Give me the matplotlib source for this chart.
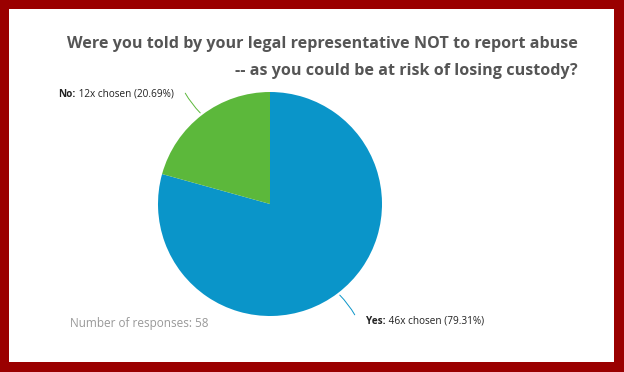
import numpy as np
import matplotlib
matplotlib.use("Agg")
import matplotlib.pyplot as plt
from matplotlib.patches import Rectangle

# data
answers = ["Yes", "No"]
counts = [46, 12]
colors = ["#0a95c9", "#5cb83b"]
title_lines = ["Were you told by your legal representative NOT to report abuse",
               "-- as you could be at risk of losing custody?"]

total = sum(counts)
shares = [c / total * 100 for c in counts]

plt.rcParams['font.family'] = ['Open Sans', 'DejaVu Sans']

W, H = 624, 372
fig = plt.figure(figsize=(W / 100, H / 100), dpi=100)
fig.patch.set_facecolor("#9a0000")
fig.patches.append(Rectangle((9 / W, 10 / H), 605 / W, 353 / H,
                             transform=fig.transFigure, facecolor="white",
                             edgecolor="none", zorder=-1))

# title, right aligned
fig.text(578 / W, 1 - 44 / H, title_lines[0], ha="right", va="center",
         fontsize=11.65, fontweight="bold", color="#555555")
fig.text(578 / W, 1 - 71 / H, title_lines[1], ha="right", va="center",
         fontsize=11.65, fontweight="bold", color="#555555")

# pie axes (centre 270,204 radius 112 px)
cx, cy, r = 270, 204, 112
ax = fig.add_axes([(cx - r) / W, (H - cy - r) / H, 2 * r / W, 2 * r / H])
wedges, _ = ax.pie(counts, colors=colors, startangle=90, counterclock=False,
                   radius=1, wedgeprops=dict(linewidth=0))
ax.set_xlim(-1, 1)
ax.set_ylim(-1, 1)
ax.set_axis_off()

for w, name, c, s, col in zip(wedges, answers, counts, shares, colors):
    ang = np.deg2rad((w.theta1 + w.theta2) / 2)
    x0, y0 = np.cos(ang), np.sin(ang)
    x1, y1 = 1.27 * x0, 1.27 * y0
    ax.annotate("", xy=(x0, y0), xytext=(x1, y1),
                arrowprops=dict(arrowstyle="-", color=col, lw=0.7,
                                connectionstyle="arc3,rad=0.08"),
                annotation_clip=False)
    rest = " %dx chosen (%.2f%%)" % (c, s)
    if x0 >= 0:
        t1 = ax.text(x1 + 0.09, y1 - 0.035, name + ":", ha="left", va="center",
                     fontsize=7.2, fontweight="bold", color="#222222", clip_on=False)
        ax.annotate(rest, xy=(1, 0.5), xycoords=t1, ha="left", va="center",
                    fontsize=7.2, color="#222222", annotation_clip=False)
    else:
        t1 = ax.text(x1 - 0.09, y1 - 0.03, rest, ha="right", va="center",
                     fontsize=7.2, color="#222222", clip_on=False)
        ax.annotate(name + ":", xy=(0, 0.5), xycoords=t1, ha="right", va="center",
                    fontsize=7.2, fontweight="bold", color="#222222",
                    annotation_clip=False)

fig.text(70 / W, 1 - 323 / H, "Number of responses: %d" % total, ha="left",
         va="center", fontsize=8.5, color="#999999")

fig.savefig("out.png", dpi=100, facecolor=fig.get_facecolor())
